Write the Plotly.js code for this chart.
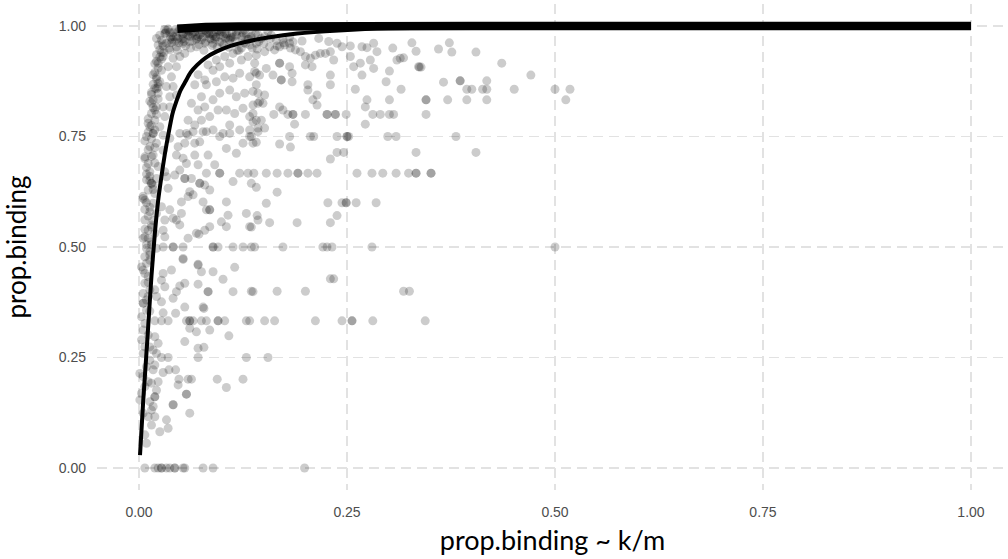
<!DOCTYPE html>
<html>
<head>
<meta charset="utf-8">
<script src="https://cdn.plot.ly/plotly-3.0.1.min.js"></script>
<style>html,body{margin:0;padding:0;background:#fff;}#chart{width:1008px;height:559px;}</style>
</head>
<body>
<div id="chart"></div>
<script>
const pointX = [
  .328,.333,.360,.373,.376,.405,.436,.471,.337,.339,.366,.386,.386,.394,.400,.413,.418,.418,.451,.500,.518,.345,.345,.371,.394,.418,.513,.345,.381,.333,.405,
  .196,.216,.228,.238,.244,.254,.268,.274,.282,.286,.305,
  .141,.151,.157,.163,.169,.175,.181,.185,.188,.194,.200,.206,.212,.218,.224,.230,.234,.254,.258,.266,.268,.278,.282,.301,.310,.314,.318,.336,
  .139,.145,.153,.161,.169,.169,.171,.171,.181,.184,.184,.200,.208,.230,.230,.203,.203,.214,.209,.214,.141,.143,.151,.145,.149,.137,.169,.173,.137,.147,.137,.143,.151,.187,.272,.260,.274,.272,.297,.315,.301,
  .162,.179,.185,.185,.200,.226,.226,.236,.236,.249,.281,.290,.301,.306,
  .135,.181,.206,.210,.238,.250,.250,.252,.299,.309,
  .141,.169,.182,.238,.246,.230,
  .138,.153,.166,.179,.191,.191,.203,.214,.262,.280,.293,.309,.324,.333,.333,.351,.351,
  .141,.166,.153,.227,.244,.249,.249,.261,.285,.142,.135,.157,.190,.230,.238,
  .135,.173,.221,.226,.232,.280,.500,
  .230,.234,
  .135,.166,.200,.318,.325,
  .133,.151,.163,.212,.244,.256,.256,.281,.344,
  .053,.071,.075,.089,.101,.115,.071,.083,.113,.137,.055,.049,.045,.041,.039,.029,.027,.031,.019,.021,.027,.055,.077,.029,.044,
  .019,.027,.035,.057,.061,.061,.065,.075,.081,.095,.095,.103,.129,
  .061,.069,.085,.108,.055,.078,.083,
  .027,.035,.071,.129,.155,
  .019,.029,.036,.044,.048,.059,.063,.094,.125,.105,.047,.057,.057,.041,.041,.061,.019,.033,.015,.035,.025,.007,.009,.071,.078,.071,.072,.059,
  .005,.001,.003,.007,.011,.005,.001,.009,.013,.005,.007,.003,.011,.005,.007,.003,.009,.005,.005,.011,.013,.007,.011,.005,.009,.007,.013,
  .013,.017,.021,.019,.023,.015,.019,.019,.013,.015,.017,.021,.023,.017,.011,
  .007,.019,.023,.027,.033,.037,.043,.053,.055,.077,.089,.199,.027,.043,
  .049,.059,.081,.097,.109,.133,.125,.137,.073,.047,.055,.067,.045,.053,.067,.083,.105,.117,.121,.131,.135,.113,.097,.097,.091,.081,.071,.057,.049,.043,.055,.055,.063,.073,.073,.079,.085,.061,.059,.065,.077,.081,.085,.085,.105,.051,.037,.041,.045,.051,.049,.031,.029,.031,.069,.079,.085,.099,.105,.107,.133,.143,.129,
  .029,.041,.041,.053,.089,.089,.095,.113,.125,.139,.053,
  .009,.017,.013,.021,.007,.017,.011,.023,.013,.009,.015,.015,.021,.011,.019,.007,.017,.013,.021,.007,.015,.011,.019,.007,.015,.009,.021,.013,.033,.035,.027,.029,.037,.031,
  .031,.037,.027,.033,.041,.047,.053,.059,.067,.075,.085,.093,.105,.117,.127,.137,.025,.029,.023,.027,.021,.025,.019,.023,.017,.021,.015,.019,.013,.017,
  .037,.041,.035,.045,.053,.061,.069,.079,.089,.097,.109,.045,.039,.033,.037,.029,.031,.025,.029,.049,.055,.041,.045,.037,
  .083,.093,.103,.113,.123,.133,.141,.071,.079,.089,.097,.109,.123,.131,.139,.067,.075,.081,.093,.103,.113,.121,.133,.141,
  .063,.071,.079,.089,.097,.109,.117,.127,.137,.143,.059,.067,.075,.085,.095,.105,.115,.125,.133,.141,.057,.065,.077,.089,.101,.109,.121,.133,.143,
  .021,.025,.029,.033,.037,.041,.045,.049,.053,.057,.061,.065,.069,.073,.077,.081,.085,.089,.093,.097,.101,.105,.111,.117,.123,.129,.135,.143,.151,.159,
  .023,.031,.039,.047,.055,.063,.071,.079,.087,.095,.103,.113,.125,.147,.165,
  .035,.043,.051,.059,.067,.075,.083,.091,.099,.107,.119,.131,.155,.173,.181,
  .025,.021,.023,.019,.021,.017,.021,.027,.015,.013,.017,.021,.011,.015,.019,.023,.007,.011,.015,.019,.009,.013,.017,.005,.009,.013,.017,.007,.011,.015,
  .028,.032,.036,.040,.044,.048,.052,.056,.060,.064,.068,.072,.076,.080,.084,.088,.092,.096,.100,.104,.108,.112,.116,.120,.124,.128,.132,.136,.140,.144,
  .030,.038,.046,.054,.062,.070,.078,.086,.094,.102,.110,.118,.126,.134,.142,.150,.158,.166,.174,.182,
  .021,.019,.017,.023,.027,.015,.015,.019,.023,.011,.011,.015,.019,.007,.009,.013,.017,.005,.007,.011,.015,.005,.009,.013,.003,.007,.011,.005,.009,.013
];
const pointY = [
  .962,.943,.948,.962,.941,.941,.916,.889,.907,.907,.873,.876,.876,.857,.857,.857,.857,.876,.857,.857,.857,.833,.833,.833,.833,.833,.833,.800,.750,.714,.714,
  .966,.972,.965,.961,.953,.955,.953,.951,.961,.942,.950,
  .934,.942,.953,.946,.953,.957,.961,.964,.946,.942,.931,.927,.934,.938,.938,.942,.923,.931,.908,.916,.889,.923,.904,.898,.923,.927,.928,.908,
  .897,.889,.904,.889,.916,.916,.878,.878,.908,.893,.874,.912,.908,.889,.867,.867,.855,.844,.833,.821,.867,.848,.844,.829,.825,.821,.817,.810,.802,.787,.783,.769,.769,.778,.778,.857,.833,.817,.874,.857,.833,
  .800,.800,.800,.800,.800,.800,.800,.800,.800,.800,.800,.800,.800,.800,
  .750,.750,.750,.750,.750,.750,.750,.750,.750,.750,
  .737,.733,.726,.714,.714,.699,
  .667,.667,.667,.667,.667,.667,.667,.667,.667,.667,.667,.667,.667,.667,.667,.667,.667,
  .635,.624,.599,.600,.600,.600,.600,.600,.600,.571,.545,.555,.555,.555,.571,
  .500,.500,.500,.500,.500,.500,.500,
  .428,.428,
  .400,.400,.400,.400,.400,
  .333,.333,.333,.333,.333,.333,.333,.333,.333,
  .472,.459,.444,.444,.427,.454,.416,.399,.399,.399,.418,.412,.399,.384,.448,.440,.425,.410,.403,.388,.376,.364,.364,.351,.350,
  .333,.333,.333,.333,.333,.333,.333,.333,.333,.333,.333,.333,.333,
  .316,.308,.312,.299,.286,.273,.399,
  .250,.250,.250,.250,.250,
  .233,.216,.222,.222,.201,.201,.201,.201,.201,.182,.188,.167,.167,.143,.143,.124,.116,.109,.097,.090,.082,.075,.056,.461,.361,.271,.529,.520,
  .124,.154,.169,.184,.195,.207,.214,.229,.244,.259,.274,.290,.301,.312,.327,.342,.357,.373,.373,.388,.403,.418,.433,.448,.463,.478,.489,
  .274,.267,.259,.297,.282,.192,.161,.161,.150,.131,.139,.176,.195,.222,.116,
  0,0,0,0,0,0,0,0,0,0,0,0,0,0,
  .757,.753,.761,.750,.757,.750,.735,.735,.738,.727,.735,.735,.708,.701,.708,.708,.723,.712,.667,.667,.644,.648,.667,.667,.686,.667,.686,.689,.674,.663,.655,.655,.655,.644,.644,.640,.629,.625,.614,.618,.602,.584,.584,.584,.602,.602,.584,.565,.561,.576,.550,.561,.538,.523,.531,.538,.546,.557,.546,.572,.546,.561,.576,
  .500,.500,.500,.500,.500,.500,.500,.500,.500,.500,.474,
  .750,.757,.727,.735,.704,.708,.689,.682,.670,.652,.644,.644,.655,.629,.621,.606,.599,.580,.576,.561,.550,.538,.531,.523,.512,.497,.497,.482,.659,.633,.591,.719,.746,.670,
  .983,.986,.968,.961,.976,.987,.983,.991,.987,.991,.991,.987,.991,.987,.991,.995,.946,.931,.916,.900,.885,.874,.859,.848,.833,.817,.802,.787,.772,.757,
  .946,.927,.908,.953,.961,.964,.953,.961,.961,.964,.968,.908,.885,.863,.840,.817,.795,.772,.753,.931,.938,.863,.844,.817,
  .912,.923,.931,.938,.950,.957,.961,.890,.878,.900,.908,.916,.923,.931,.916,.867,.840,.867,.874,.885,.882,.893,.885,.893,
  .825,.810,.817,.833,.848,.855,.840,.848,.852,.825,.787,.776,.787,.795,.810,.810,.802,.814,.795,.787,.757,.761,.761,.765,.757,.776,.765,.765,.761,
  .972,.979,.955,.990,.969,.985,.976,.994,.972,.981,.976,.985,.970,.980,.975,.983,.972,.979,.975,.980,.977,.982,.975,.979,.975,.982,.977,.980,.976,.979,
  .957,.992,.962,.972,.992,.983,.976,.990,.970,.991,.983,.975,.984,.972,.967,
  .993,.964,.970,.978,.995,.969,.984,.970,.987,.972,.990,.970,.988,.970,.975,
  .930,.920,.905,.895,.880,.868,.858,.940,.845,.830,.815,.800,.790,.775,.765,.870,.740,.720,.705,.690,.665,.650,.640,.615,.600,.590,.560,.540,.520,.505,
  .960,.985,.950,.970,.992,.962,.980,.955,.988,.966,.978,.958,.986,.964,.982,.956,.975,.988,.962,.972,.952,.984,.966,.945,.978,.960,.970,.950,.982,.965,
  .940,.975,.945,.965,.950,.972,.945,.982,.952,.958,.972,.945,.962,.975,.948,.960,.972,.955,.962,.950,
  .935,.915,.890,.862,.925,.850,.825,.810,.835,.780,.760,.745,.725,.700,.680,.660,.630,.610,.585,.570,.545,.520,.505,.470,.455,.440,.420,.395,.380,.355
];
// fitted curve (thin) and the saturated curve (thick)
const fitX = [0.0012,0.005,0.010,0.015,0.019,0.023,0.027,0.031,0.035,0.040,0.045,0.050,0.056,0.062,0.070,0.080,0.093,0.110,0.130,0.155,0.190,0.240,0.300,0.500,1.000];
const fitY = [0.029,0.150,0.290,0.435,0.530,0.605,0.660,0.710,0.752,0.800,0.830,0.855,0.875,0.895,0.912,0.928,0.942,0.955,0.965,0.974,0.983,0.990,0.995,0.998,0.999];
const satX = [0.046,0.060,0.080,0.120,0.200,0.400,0.700,1.000];
const satY = [0.994,0.997,0.998,0.999,1.000,1.000,1.000,1.000];
const tickVals = [0, 0.25, 0.5, 0.75, 1];
const tickText = ["0.00", "0.25", "0.50", "0.75", "1.00"];

const traces = [
  {x: pointX, y: pointY, type: 'scatter', mode: 'markers',
   marker: {size: 9, color: 'rgba(0,0,0,0.2)', line: {width: 0}}, hoverinfo: 'skip'},
  {x: fitX, y: fitY, type: 'scatter', mode: 'lines',
   line: {color: '#000', width: 4, shape: 'spline', smoothing: 0.6}},
  {x: satX, y: satY, type: 'scatter', mode: 'lines',
   line: {color: '#000', width: 8.5}}
];
const tickFont = {family: 'Liberation Sans, Arial, sans-serif', size: 14, color: '#4d4d4d'};
const layout = {
  width: 1008, height: 559,
  margin: {l: 97, r: 0, t: 4, b: 69},
  paper_bgcolor: '#fff', plot_bgcolor: '#fff',
  showlegend: false,
  xaxis: {
    range: [-0.0505, 1.0445], tickvals: tickVals, ticktext: tickText,
    showgrid: true, gridcolor: '#e2e2e2', gridwidth: 1.6, griddash: '10px,6px',
    zeroline: false, showline: false, ticks: '', tickfont: tickFont, ticklabelstandoff: 12,
    title: {text: 'prop.binding ~ k/m', font: {family: 'Lato, sans-serif', size: 27, color: '#000'}, standoff: 12}
  },
  yaxis: {
    range: [-0.0498, 1.0498], tickvals: tickVals, ticktext: tickText,
    showgrid: true, gridcolor: '#e2e2e2', gridwidth: 1.6, griddash: '10px,6px',
    zeroline: false, showline: false, ticks: '', tickfont: tickFont, ticklabelstandoff: 10,
    title: {text: 'prop.binding', font: {family: 'Lato, sans-serif', size: 26, color: '#000'}, standoff: 24}
  }
};
Plotly.newPlot('chart', traces, layout, {staticPlot: true, displayModeBar: false});
</script>
</body>
</html>
